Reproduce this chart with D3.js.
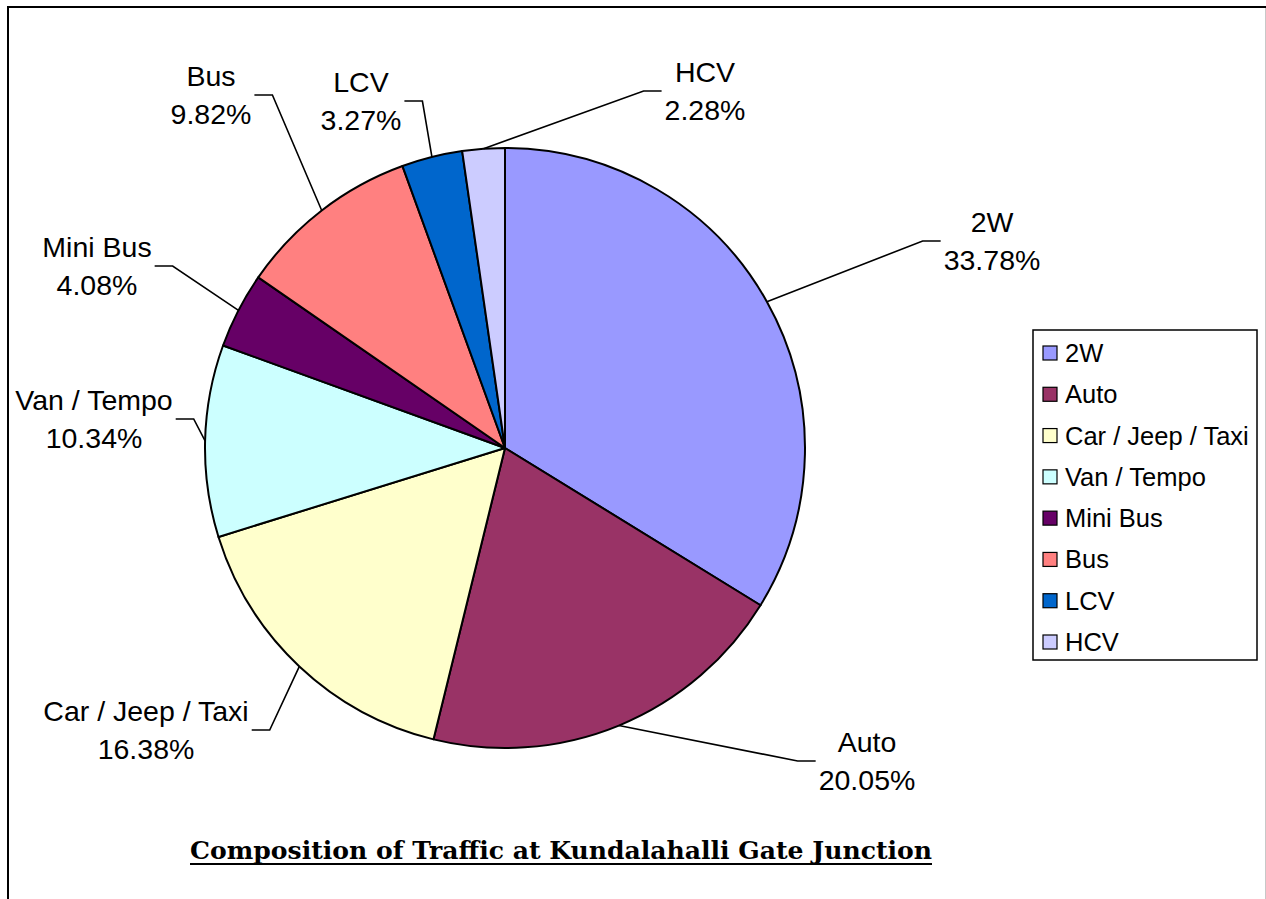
<!DOCTYPE html>
<html>
<head>
<meta charset="utf-8">
<script src="https://cdn.jsdelivr.net/npm/d3@7"></script>
<style>
  body { margin: 0; background: #fff; }
  svg { display: block; }
  .lbl { font-family: "Liberation Sans", Arial, sans-serif; font-size: 28.5px; fill: #000; }
  .leg { font-family: "Liberation Sans", Arial, sans-serif; font-size: 25.5px; fill: #000; }
</style>
</head>
<body>
<div class="chart"></div>
<script>
var svgWidth = 1266;
var svgHeight = 899;

// data
var categories = ["2W", "Auto", "Car / Jeep / Taxi", "Van / Tempo", "Mini Bus", "Bus", "LCV", "HCV"];
var shares = [33.78, 20.05, 16.38, 10.34, 4.08, 9.82, 3.27, 2.28];
var colours = ["#9999FF", "#993366", "#FFFFCC", "#CCFFFF", "#660066", "#FF8080", "#0066CC", "#CCCCFF"];
var title = "Composition of Traffic at Kundalahalli Gate Junction";

// where each dragged label sits (centre x, first baseline), same order as categories
var labelAt = [[992, 232], [867, 752], [146, 721], [94, 410], [97, 257], [211, 86], [361, 92], [705, 82]];

var cx = 505, cy = 448, radius = 300;

var svg = d3.select(".chart")
  .append("svg")
  .attr("width", svgWidth)
  .attr("height", svgHeight);

// chart frame (top and left edges, faint right edge)
svg.append("line").attr("x1", 7).attr("y1", 7).attr("x2", 1266).attr("y2", 7)
  .attr("stroke", "#000").attr("stroke-width", 2);
svg.append("line").attr("x1", 8).attr("y1", 7).attr("x2", 8).attr("y2", 899)
  .attr("stroke", "#000").attr("stroke-width", 2);
svg.append("line").attr("x1", 1265.5).attr("y1", 8).attr("x2", 1265.5).attr("y2", 899)
  .attr("stroke", "#c8c8c8").attr("stroke-width", 1);

var data = categories.map(function(c, i) {
  return { name: c, value: shares[i], colour: colours[i], at: labelAt[i] };
});

var pie = d3.pie().sort(null).value(d => d.value);
var arc = d3.arc().innerRadius(0).outerRadius(radius);
var edge = d3.arc().innerRadius(radius).outerRadius(radius);

var pieGroup = svg.append("g")
  .attr("transform", `translate(${cx}, ${cy})`);

var arcs = pie(data);

pieGroup.selectAll("path.slice")
  .data(arcs)
  .enter()
  .append("path")
  .attr("class", "slice")
  .attr("d", arc)
  .attr("fill", d => d.data.colour)
  .attr("stroke", "#000")
  .attr("stroke-width", 2)
  .attr("stroke-linejoin", "round");

// data labels with leader lines
var labels = svg.append("g");

arcs.forEach(function(d) {
  var x = d.data.at[0], y = d.data.at[1];
  var g = labels.append("g");
  var t1 = g.append("text").attr("class", "lbl")
    .attr("x", x).attr("y", y)
    .attr("text-anchor", "middle")
    .text(d.data.name);
  var t2 = g.append("text").attr("class", "lbl")
    .attr("x", x).attr("y", y + 38)
    .attr("text-anchor", "middle")
    .text(d.data.value.toFixed(2) + "%");

  var w = Math.max(t1.node().getComputedTextLength(), t2.node().getComputedTextLength());
  var p = edge.centroid(d);
  var px = cx + p[0], py = cy + p[1];
  var ly = y + 9;
  var hx0, hx1;
  if (x > px) {
    hx1 = x - w / 2 - 3;
    hx0 = hx1 - 18;
    g.append("polyline")
      .attr("points", [[px, py], [hx0, ly], [hx1, ly]].join(" "));
  } else {
    hx0 = x + w / 2 + 3;
    hx1 = hx0 + 18;
    g.append("polyline")
      .attr("points", [[px, py], [hx1, ly], [hx0, ly]].join(" "));
  }
});

labels.selectAll("polyline")
  .attr("fill", "none")
  .attr("stroke", "#000")
  .attr("stroke-width", 1.6);

// legend
var legend = svg.append("g");
legend.append("rect")
  .attr("x", 1033).attr("y", 330)
  .attr("width", 224).attr("height", 330)
  .attr("fill", "#fff")
  .attr("stroke", "#000")
  .attr("stroke-width", 1.5);

var rowY = d3.scalePoint()
  .domain(categories)
  .range([353, 642]);

var rows = legend.selectAll("g.row")
  .data(data)
  .enter()
  .append("g")
  .attr("class", "row")
  .attr("transform", d => `translate(1043, ${rowY(d.name)})`);

rows.append("rect")
  .attr("x", 0).attr("y", -7)
  .attr("width", 14).attr("height", 14)
  .attr("fill", d => d.colour)
  .attr("stroke", "#000")
  .attr("stroke-width", 1.2);

rows.append("text")
  .attr("class", "leg")
  .attr("x", 22)
  .attr("y", 9)
  .text(d => d.name);

// title
svg.append("text")
  .attr("x", 561)
  .attr("y", 859)
  .attr("text-anchor", "middle")
  .attr("textLength", 742)
  .attr("lengthAdjust", "spacingAndGlyphs")
  .style("font-family", "'DejaVu Serif', serif")
  .style("font-weight", "bold")
  .style("font-size", "24px")
  .text(title);

svg.append("line")
  .attr("x1", 190).attr("x2", 932)
  .attr("y1", 864).attr("y2", 864)
  .attr("stroke", "#000")
  .attr("stroke-width", 2);
</script>
</body>
</html>
